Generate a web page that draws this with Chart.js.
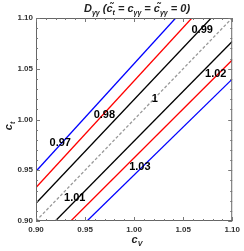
<!DOCTYPE html>
<html><head><meta charset="utf-8">
<script src="https://cdn.jsdelivr.net/npm/chart.js@4.4.1/dist/chart.umd.min.js"></script>
<style>html,body{margin:0;padding:0;background:#fff}#wrap{width:244px;height:251px}</style>
</head><body><div id="wrap"><canvas id="c"></canvas></div>
<script>
// contour lines: start and end points (cV, ct)
const lineNames = ["0.97","0.98","0.99","1","1.01","1.02","1.03"];
const lineX = [[0.90,1.0424],[0.90,1.0589],[0.90,1.0786],[0.90,1.10],[0.9197,1.10],[0.9355,1.10],[0.952,1.10]];
const lineY = [[0.949,1.10],[0.933,1.10],[0.9175,1.10],[0.90,1.10],[0.90,1.0769],[0.90,1.0587],[0.90,1.0398]];
const lineColors = ["#0000ff","#ff0000","#000000","#999999","#000000","#ff0000","#0000ff"];
// contour label positions
const labelText = ["0.97","0.98","0.99","1","1.01","1.02","1.03"];
const labelX = [0.9247,0.9697,1.0694,1.0211,0.9395,1.0832,1.0059];
const labelY = [0.9767,1.0041,1.0878,1.02,0.9228,1.0445,0.9529];
const majorTicks = [0.90,0.95,1.00,1.05,1.10];
const minorTicks = [0.91,0.92,0.93,0.94,0.96,0.97,0.98,0.99,1.01,1.02,1.03,1.04,1.06,1.07,1.08,1.09];

const datasets = lineNames.map((n,i)=>({
  label:n,
  data: lineX[i].map((x,j)=>({x:x,y:lineY[i][j]})),
  borderColor: lineColors[i],
  borderWidth: 1.3,
  borderDash: n==="1" ? [3,2] : [],
  pointRadius:0, fill:false, tension:0
}));

const decor = {
  id:'decor',
  afterDatasetsDraw(chart){
    const ctx=chart.ctx, xs=chart.scales.x, ys=chart.scales.y, a=chart.chartArea;
    ctx.save();
    // frame
    ctx.strokeStyle='#666'; ctx.lineWidth=1;
    ctx.strokeRect(a.left+0.5,a.top+0.5,a.right-a.left-1,a.bottom-a.top-1);
    // inward ticks
    ctx.strokeStyle='#777';
    const tk=(v,len)=>{
      const px=Math.round(xs.getPixelForValue(v))+0.5, py=Math.round(ys.getPixelForValue(v))+0.5;
      ctx.beginPath();
      ctx.moveTo(px,a.bottom); ctx.lineTo(px,a.bottom-len);
      ctx.moveTo(px,a.top); ctx.lineTo(px,a.top+len);
      ctx.moveTo(a.left,py); ctx.lineTo(a.left+len,py);
      ctx.moveTo(a.right,py); ctx.lineTo(a.right-len,py);
      ctx.stroke();
    };
    majorTicks.forEach(v=>tk(v,4)); minorTicks.forEach(v=>tk(v,2));
    // contour labels
    ctx.fillStyle='#000'; ctx.font='bold 11px "Liberation Sans", Arial, sans-serif';
    ctx.textAlign='center'; ctx.textBaseline='middle';
    labelText.forEach((t,i)=>ctx.fillText(t,xs.getPixelForValue(labelX[i]),ys.getPixelForValue(labelY[i])));
    ctx.restore();
  },
  afterDraw(chart){
    const ctx=chart.ctx; ctx.save(); ctx.fillStyle='#222';
    ctx.textBaseline='alphabetic';
    // title
    const big='italic bold 11px "Liberation Sans", Arial, sans-serif';
    const sub='italic bold 7px "Liberation Sans", Arial, sans-serif';
    const parts=[["D",big,0],["γγ",sub,3],[" (",big,0],["c̃",big,0],["t",sub,3],[" = c",big,0],["γγ",sub,3],[" = c̃",big,0],["γγ",sub,3],[" = 0)",big,0]];
    let w=0; parts.forEach(p=>{ctx.font=p[1]; w+=ctx.measureText(p[0]).width;});
    let x=137-w/2; const y=12;
    parts.forEach(p=>{ctx.font=p[1]; ctx.textAlign='left'; ctx.fillText(p[0],x,y+p[2]); x+=ctx.measureText(p[0]).width;});
    // x axis label
    ctx.font='italic bold 11px "Liberation Sans", Arial, sans-serif';
    let wc=ctx.measureText("c").width; ctx.font=sub; let wv=ctx.measureText("V").width;
    let sx=137-(wc+wv)/2;
    ctx.font='italic bold 11px "Liberation Sans", Arial, sans-serif'; ctx.fillText("c",sx,243);
    ctx.font=sub; ctx.fillText("V",sx+wc,246);
    // y axis label
    ctx.translate(12,126); ctx.rotate(-Math.PI/2);
    ctx.font='italic bold 11px "Liberation Sans", Arial, sans-serif'; wc=ctx.measureText("c").width;
    ctx.font=sub; let wt=ctx.measureText("t").width;
    sx=-(wc+wt)/2;
    ctx.font='italic bold 11px "Liberation Sans", Arial, sans-serif'; ctx.fillText("c",sx,0);
    ctx.font=sub; ctx.fillText("t",sx+wc,3);
    ctx.restore();
  }
};

const tickFont={family:'"Liberation Sans", Arial, sans-serif',size:8,weight:'bold'};
new Chart(document.getElementById('c'),{
  type:'line',
  data:{datasets},
  options:{
    responsive:true, maintainAspectRatio:false, animation:false,
    layout:{padding:{top:18,right:5,left:0,bottom:0}},
    plugins:{legend:{display:false},tooltip:{enabled:false},title:{display:false}},
    scales:{
      x:{type:'linear',min:0.9,max:1.1,
        afterBuildTicks:s=>{s.ticks=majorTicks.map(v=>({value:v}));},
        afterFit:s=>{s.height=30;},
        grid:{display:false,drawTicks:false},border:{display:false},
        ticks:{padding:4,color:'#333',font:tickFont,maxRotation:0,autoSkip:false,callback:v=>Number(v).toFixed(2)}},
      y:{type:'linear',min:0.9,max:1.1,
        afterBuildTicks:s=>{s.ticks=majorTicks.map(v=>({value:v}));},
        afterFit:s=>{s.width=36;},
        grid:{display:false,drawTicks:false},border:{display:false},
        ticks:{padding:3,color:'#333',font:tickFont,autoSkip:false,callback:v=>Number(v).toFixed(2)}}
    }
  },
  plugins:[decor]
});
</script></body></html>
